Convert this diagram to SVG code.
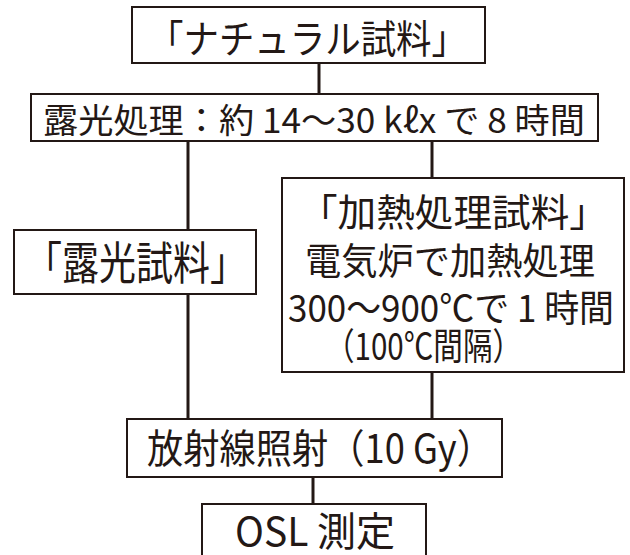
<svg xmlns="http://www.w3.org/2000/svg" width="630" height="555" viewBox="0 0 630 555">
<style>
.box{fill:#fff;stroke:#231815;stroke-width:2}
.ln{stroke:#231815;stroke-width:3;fill:none}
text{font-family:"Noto Sans CJK JP","Noto Sans",sans-serif;fill:#231815;font-weight:400}
</style>
<rect width="630" height="555" fill="#fff"/>
<g id="connectors">
<line class="ln" x1="319" y1="63" x2="319" y2="95"/>
<line class="ln" x1="188" y1="141" x2="188" y2="419"/>
<line class="ln" x1="432" y1="141" x2="432" y2="178"/>
<line class="ln" x1="432" y1="372" x2="432" y2="419"/>
<line class="ln" x1="313" y1="477" x2="313" y2="504"/>
</g>
<g id="natural">
<rect class="box" x="132" y="7" width="353" height="56"/>
<text x="148" y="53" font-size="39" textLength="319" lengthAdjust="spacingAndGlyphs">「ナチュラル試料」</text>
</g>
<g id="exposure-process">
<rect class="box" x="31" y="94" width="567" height="47"/>
<text x="43" y="133" font-size="34" textLength="542" lengthAdjust="spacingAndGlyphs">露光処理：約 14〜30 kℓx で 8 時間</text>
</g>
<g id="exposed-sample">
<rect class="box" x="14" y="230" width="242" height="64"/>
<text x="25" y="280" font-size="45" textLength="222" lengthAdjust="spacingAndGlyphs">「露光試料」</text>
</g>
<g id="heated-sample">
<rect class="box" x="282" y="178" width="342" height="194"/>
<text x="299" y="226" font-size="38" textLength="309" lengthAdjust="spacingAndGlyphs">「加熱処理試料」</text>
<text x="305" y="275" font-size="37" textLength="290" lengthAdjust="spacingAndGlyphs">電気炉で加熱処理</text>
<text x="288" y="322" font-size="37" textLength="326" lengthAdjust="spacingAndGlyphs">300〜900℃で 1 時間</text>
<text x="325" y="360" font-size="37" textLength="197" lengthAdjust="spacingAndGlyphs">（100℃間隔）</text>
</g>
<g id="irradiation">
<rect class="box" x="127" y="419" width="375" height="58"/>
<text x="147" y="463" font-size="40" textLength="346" lengthAdjust="spacingAndGlyphs">放射線照射（10 Gy）</text>
</g>
<g id="osl">
<rect class="box" x="202" y="504" width="224" height="60"/>
<text x="235" y="546" font-size="40" textLength="160" lengthAdjust="spacingAndGlyphs">OSL 測定</text>
</g>
</svg>
